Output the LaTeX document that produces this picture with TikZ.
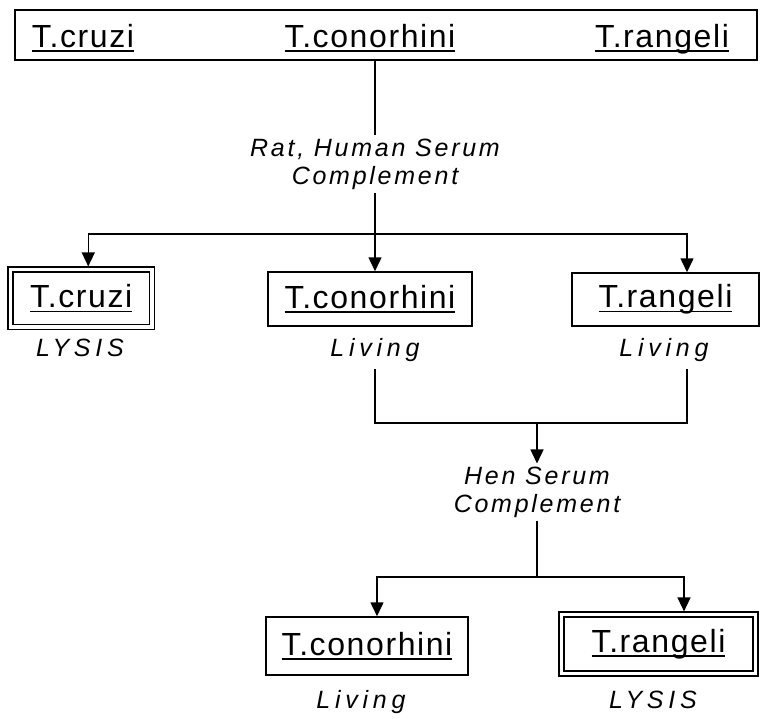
\documentclass[tikz,border=0pt]{standalone}
\usepackage{fontspec}
\setmainfont{Liberation Sans}[LetterSpace=5]
\usetikzlibrary{arrows.meta}
\newcommand\spn[1]{\setbox0\hbox{#1}\rlap{\rule[-4.5pt]{\wd0}{1.4pt}}\box0}
\tikzset{
  box/.style={draw, line width=1.5pt, inner sep=0pt},
  dbox/.style={draw, double, double distance=3.4pt, line width=1.4pt, inner sep=0pt, outer sep=3.1pt},
  spname/.style={font=\fontsize{32}{36}\selectfont},
  lbl/.style={font=\fontsize{25}{28}\selectfont\itshape\addfontfeature{LetterSpace=11}, align=center, inner sep=3pt},
  res/.style={font=\fontsize{25}{28}\selectfont\itshape\addfontfeature{LetterSpace=19}, inner sep=7pt},
  conn/.style={line width=1.5pt},
  arr/.style={conn, -{Triangle[length=14pt,width=13pt]}}
}
\begin{document}
\begin{tikzpicture}[x=1pt,y=-1pt]
\path[use as bounding box] (0,0) rectangle (760,718);
% top box
\node[box, minimum width=742pt, minimum height=50pt] (top) at (386,35) {};
\node[spname, anchor=base] (tcr) at (83,47) {\spn{T.cruzi}};
\node[spname, anchor=base] (tco) at (370,47) {\spn{T.conorhini}};
\node[spname, anchor=base] (tra) at (662,47) {\spn{T.rangeli}};
% first serum
\node[lbl] (rat) at (375,164) {Rat, Human Serum\\Complement};
\coordinate (j1) at (375,234);
\draw[conn] (top.south -| rat) -- (rat.north);
\draw[conn] (rat.south) -- (j1);
% second row
\node[dbox, spname, minimum width=141.5pt, minimum height=57.5pt] (cruzi1) at (81.25,298.25) {\spn{T.cruzi}};
\node[box, spname, minimum width=204pt, minimum height=54pt] (con1) at (370,299) {\spn{T.conorhini}};
\node[box, spname, minimum width=187pt, minimum height=53pt] (ran1) at (665.5,299.5) {\spn{T.rangeli}};
\draw[arr] (j1) -| ([xshift=7pt]cruzi1.north);
\draw[arr] (j1) -- (j1 |- con1.north);
\draw[arr] (j1) -| ([xshift=21.5pt]ran1.north);
\node[res] (lys1) at (80,348) {LYSIS};
\node[res] (liv1) at (375,350) {Living};
\node[res] (liv2) at (664,350) {Living};
% merge
\coordinate (j2) at (537,423);
\draw[conn] (liv1.south) |- (j2);
\draw[conn] ([xshift=23pt]liv2.south) |- (j2);
\node[lbl] (hen) at (537,492) {Hen Serum\\Complement};
\draw[arr] (j2) -- (hen.north);
\coordinate (j3) at (537,577);
\draw[conn] (hen.south) -- (j3);
% bottom row
\node[box, spname, minimum width=202pt, minimum height=58pt] (con2) at (367,646) {\spn{T.conorhini}};
\node[dbox, spname, minimum width=194pt, minimum height=59pt] (ran2) at (658.5,644) {\spn{T.rangeli}};
\draw[arr] (j3) -| ([xshift=10pt]con2.north);
\draw[arr] (j3) -| ([xshift=25.5pt]ran2.north);
\node[res] (liv3) at (361,702) {Living};
\node[res] (lys2) at (653,700) {LYSIS};
\end{tikzpicture}
\end{document}
